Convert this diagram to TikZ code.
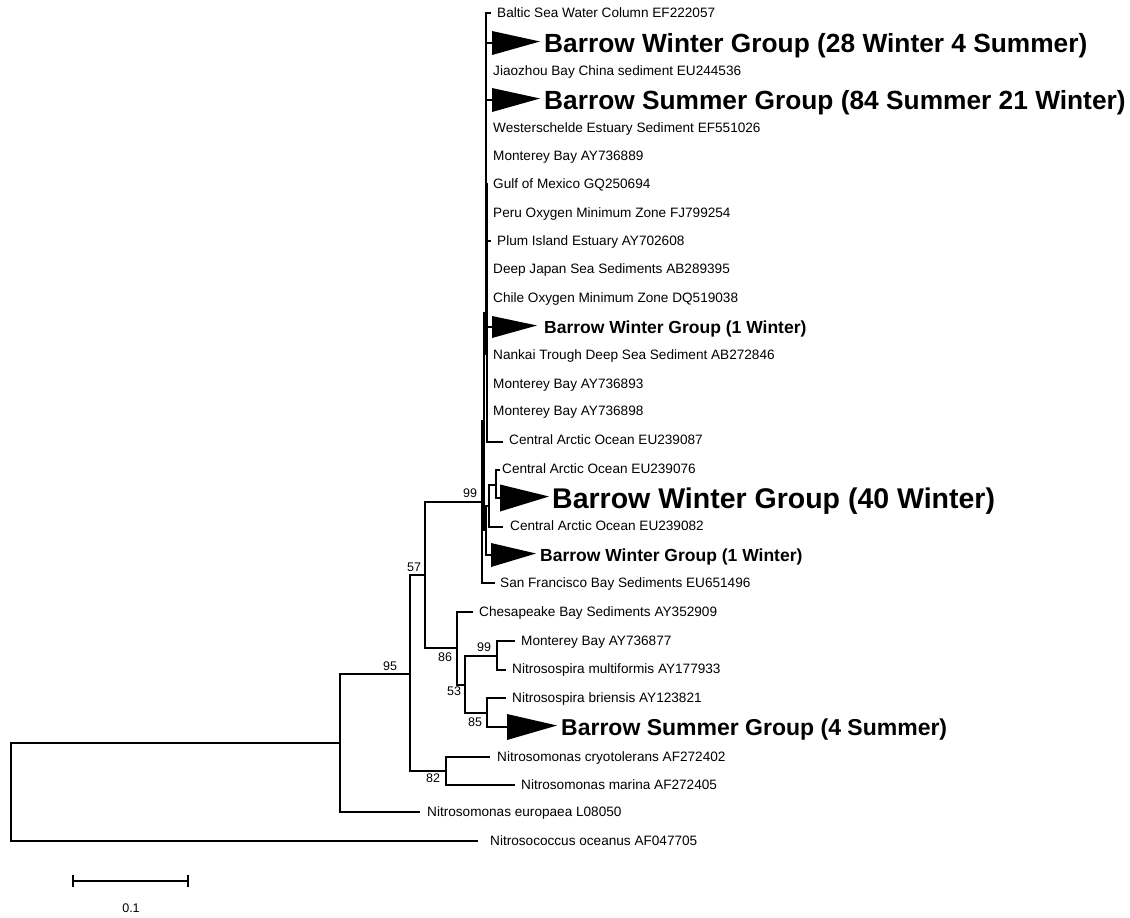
\documentclass[tikz,border=0pt]{standalone}
\usepackage{fontspec}
\setmainfont{Liberation Sans}
\begin{document}
\begin{tikzpicture}[x=1pt,y=-1pt,
  br/.style={line width=1.4pt, line join=miter},
  leaf/.style={anchor=west, inner sep=0pt, font=\fontsize{13.6}{15}\selectfont, text height=9.8pt, text depth=0pt},
  grpA/.style={anchor=west, inner sep=0pt, font=\bfseries\fontsize{26.3}{28}\selectfont, text height=18.9pt, text depth=0pt},
  grpD/.style={anchor=west, inner sep=0pt, font=\bfseries\fontsize{28.5}{30}\selectfont, text height=20.4pt, text depth=0pt},
  grpB/.style={anchor=west, inner sep=0pt, font=\bfseries\fontsize{17.5}{19}\selectfont, text height=12.6pt, text depth=0pt},
  grpC/.style={anchor=west, inner sep=0pt, font=\bfseries\fontsize{23}{25}\selectfont, text height=16.5pt, text depth=0pt},
  bs/.style={inner sep=0pt, font=\fontsize{12.5}{13}\selectfont},
  tri/.style={fill=black}]
\useasboundingbox (0,0) rectangle (1130,918);
\newcommand\tria[4]{\fill[tri] ({#1},{#3-#4}) -- ({#2},{#3-1.5}) -- ({#1},{#3+#4}) -- cycle;}

% internal nodes
\coordinate (root) at (11,792);
\coordinate (n95) at (340,743);
\coordinate (na) at (410,674);
\coordinate (n57) at (425,575);
\coordinate (n99) at (482,502);
\coordinate (nx) at (484,421);
\coordinate (ny) at (486.8,313);
\coordinate (np) at (486,184);
\coordinate (nw) at (486,530);
\coordinate (nv) at (489,506);
\coordinate (nu) at (496,485);
\coordinate (n86) at (457,648);
\coordinate (n53) at (465,685);
\coordinate (n99b) at (497,656);
\coordinate (n85) at (487,713);
\coordinate (n82) at (446,771);

% tips
\coordinate (t1) at (491,13);
\coordinate (t2) at (492,43);
\coordinate (t3) at (486,71);
\coordinate (t4) at (492,100);
\coordinate (t5) at (486,128);
\coordinate (t6) at (486,156);
\coordinate (t7) at (486,184);
\coordinate (t8) at (486,213);
\coordinate (t9) at (491,241);
\coordinate (t10) at (486,269);
\coordinate (t11) at (486,298);
\coordinate (t12) at (492,327);
\coordinate (t13) at (486,355);
\coordinate (t14) at (486.8,384);
\coordinate (t15) at (486.8,411);
\coordinate (t16) at (503,442);
\coordinate (t17) at (500,470);
\coordinate (t18) at (500,498);
\coordinate (t19) at (503,527);
\coordinate (t20) at (491,555);
\coordinate (t21) at (495,583);
\coordinate (t22) at (473,612);
\coordinate (t23) at (515,641);
\coordinate (t24) at (506,670);
\coordinate (t25) at (506,698);
\coordinate (t26) at (507,727);
\coordinate (t27) at (490,757);
\coordinate (t28) at (515,785);
\coordinate (t29) at (420,812);
\coordinate (t30) at (478,841);

% branches
\draw[br] (root) |- (n95);
\draw[br] (root) |- (t30);
\draw[br] (n95) |- (na);
\draw[br] (n95) |- (t29);
\draw[br] (na) |- (n57);
\draw[br] (na) |- (n82);
\draw[br] (n82) |- (t27);
\draw[br] (n82) |- (t28);
\draw[br] (n57) |- (n99);
\draw[br] (n57) |- (n86);
\draw[br] (n86) |- (t22);
\draw[br] (n86) |- (n53);
\draw[br] (n53) |- (n99b);
\draw[br] (n53) |- (n85);
\draw[br] (n99b) |- (t23);
\draw[br] (n99b) |- (t24);
\draw[br] (n85) |- (t25);
\draw[br] (n85) |- (t26);
\draw[br] (n99) |- (nx);
\draw[br] (n99) |- (t21);
\draw[br] (nx) |- (ny);
\draw[br] (nx) |- (nw);
\draw[br] (nw) |- (nv);
\draw[br] (nw) |- (t20);
\draw[br] (nv) |- (nu);
\draw[br] (nv) |- (t19);
\draw[br] (nu) |- (t17);
\draw[br] (nu) |- (t18);
\draw[br] (ny) |- (np);
\draw[br] (ny) |- (t14);
\draw[br] (ny) |- (t15);
\draw[br] (ny) |- (t16);
\foreach \t in {t1,t2,t3,t4,t5,t6,t7,t8,t9,t10,t11,t12,t13}{\draw[br] (np) |- (\t);}

% collapsed groups
\tria{492}{540}{43}{12}
\tria{492}{540}{100}{12}
\tria{492}{537}{327}{11}
\tria{500}{549}{498}{13.5}
\tria{491}{536}{555}{12}
\tria{507}{557}{727}{13}

% labels
\node[leaf] (L1) at (497,13) {Baltic Sea Water Column EF222057};
\node[grpA] (L2) at (544,43) {Barrow Winter Group (28 Winter 4 Summer)};
\node[leaf] (L3) at (493,71) {Jiaozhou Bay China sediment EU244536};
\node[grpA] (L4) at (544,100) {Barrow Summer Group (84 Summer 21 Winter)};
\node[leaf] (L5) at (493,128) {Westerschelde Estuary Sediment EF551026};
\node[leaf] (L6) at (493,156) {Monterey Bay AY736889};
\node[leaf] (L7) at (493,184) {Gulf of Mexico GQ250694};
\node[leaf] (L8) at (493,213) {Peru Oxygen Minimum Zone FJ799254};
\node[leaf] (L9) at (497,241) {Plum Island Estuary AY702608};
\node[leaf] (L10) at (493,269) {Deep Japan Sea Sediments AB289395};
\node[leaf] (L11) at (493,298) {Chile Oxygen Minimum Zone DQ519038};
\node[grpB] (L12) at (544,327) {Barrow Winter Group (1 Winter)};
\node[leaf] (L13) at (493,355) {Nankai Trough Deep Sea Sediment AB272846};
\node[leaf] (L14) at (493,384) {Monterey Bay AY736893};
\node[leaf] (L15) at (493,411) {Monterey Bay AY736898};
\node[leaf] (L16) at (509,440) {Central Arctic Ocean EU239087};
\node[leaf] (L17) at (502,469) {Central Arctic Ocean EU239076};
\node[grpD] (L18) at (552,498) {Barrow Winter Group (40 Winter)};
\node[leaf] (L19) at (510,526) {Central Arctic Ocean EU239082};
\node[grpB] (L20) at (540,555) {Barrow Winter Group (1 Winter)};
\node[leaf] (L21) at (500,583) {San Francisco Bay Sediments EU651496};
\node[leaf] (L22) at (479,612) {Chesapeake Bay Sediments AY352909};
\node[leaf] (L23) at (521,641) {Monterey Bay AY736877};
\node[leaf] (L24) at (512,669) {Nitrosospira multiformis AY177933};
\node[leaf] (L25) at (512,698) {Nitrosospira briensis AY123821};
\node[grpC] (L26) at (561,727) {Barrow Summer Group (4 Summer)};
\node[leaf] (L27) at (497,757) {Nitrosomonas cryotolerans AF272402};
\node[leaf] (L28) at (521,785) {Nitrosomonas marina AF272405};
\node[leaf] (L29) at (427,812) {Nitrosomonas europaea L08050};
\node[leaf] (L30) at (490,841) {Nitrosococcus oceanus AF047705};

% bootstrap values
\node[bs] (b99) at (470,493) {99};
\node[bs] (b57) at (414,567) {57};
\node[bs] (b95) at (390,666) {95};
\node[bs] (b86) at (445,657) {86};
\node[bs] (b99b) at (484,647) {99};
\node[bs] (b53) at (454,691) {53};
\node[bs] (b85) at (475,722) {85};
\node[bs] (b82) at (433,778) {82};

% scale bar
\coordinate (sb1) at (73,881);
\coordinate (sb2) at (188,881);
\draw[br] (sb1) -- (sb2);
\draw[br] ([yshift=-6pt]sb1) -- ([yshift=6pt]sb1);
\draw[br] ([yshift=-6pt]sb2) -- ([yshift=6pt]sb2);
\node[bs] (sbl) at (131,908) {0.1};
\end{tikzpicture}
\end{document}
